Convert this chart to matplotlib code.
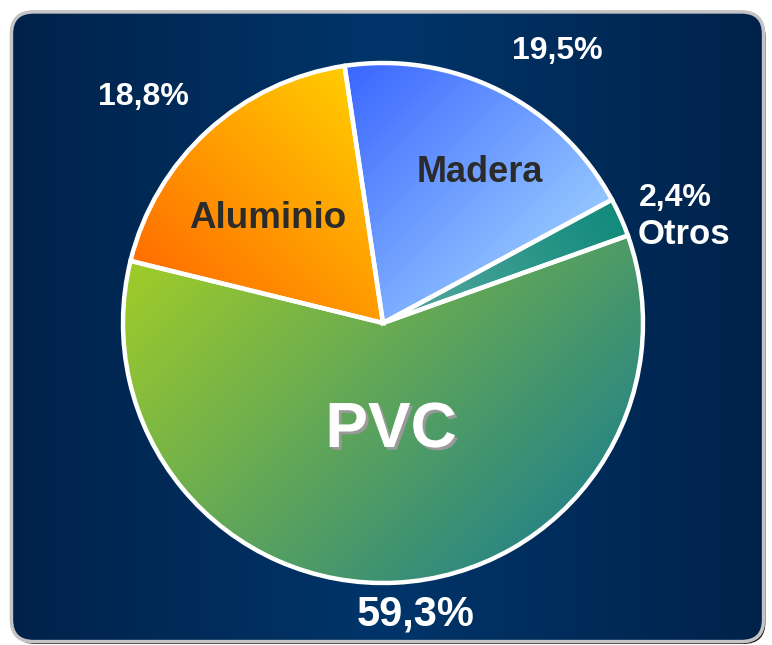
import numpy as np
import matplotlib
matplotlib.use('Agg')
import matplotlib.pyplot as plt
from matplotlib.patches import FancyBboxPatch
from matplotlib.colors import LinearSegmentedColormap, to_rgb
import matplotlib.patheffects as pe

plt.rcParams['font.family'] = ['Liberation Sans', 'DejaVu Sans']

# ---- data ----
categories = ['Madera', 'Otros', 'PVC', 'Aluminio']
values = [19.5, 2.4, 59.3, 18.8]
pct_labels = ['19,5%', '2,4%', '59,3%', '18,8%']

# ---- style / layout ----
W, H = 772, 645
cx, cy, R = 383, H - 323, 260
start_angle = 98.5
grad = {  # (start colour, end colour, direction in data coords)
    'Madera':   ('#3a66ff', '#94c6ff', (1, -1)),
    'Otros':    ('#118a7c', '#5aaaa2', (-1, -0.6)),
    'PVC':      ('#a0cc28', '#2a8682', (1, -1)),
    'Aluminio': ('#ff6e00', '#ffcc00', (1, 1)),
}
# label positions in pixel coords (x, y from top)
cat_pos = {'Madera': (480, 173, '#2b2b2b', 26),
           'Aluminio': (268, 218, '#2b2b2b', 26.5),
           'PVC': (391, 430, 'white', 46),
           'Otros': (684, 234, 'white', 25)}
pct_pos = {'19,5%': (557, 51, 23), '2,4%': (675, 198, 23),
           '59,3%': (416, 614, 30), '18,8%': (143, 97, 23)}

fig = plt.figure(figsize=(W / 100, H / 100), dpi=100)
fig.patch.set_facecolor('white')
ax = fig.add_axes([0, 0, 1, 1])

# background panel
x0, y0, bw, bh = 11.5, 3.5, 752, 629.5
shadow = FancyBboxPatch((x0 + 2, y0 - 2.5), bw, bh,
                        boxstyle='round,pad=0,rounding_size=22',
                        facecolor='#222222', edgecolor='none', zorder=0)
ax.add_patch(shadow)
panel = FancyBboxPatch((x0, y0), bw, bh, boxstyle='round,pad=0,rounding_size=22',
                       facecolor='#002e5c', edgecolor='#c4c4c4', linewidth=2.4, zorder=1)
ax.add_patch(panel)
bg_cmap = LinearSegmentedColormap.from_list('bg', ['#00224a', '#00356a', '#00224a'])
xs = np.linspace(0, 1, 400)
bgimg = np.tile(xs, (10, 1))
im = ax.imshow(bgimg, cmap=bg_cmap, extent=[x0, x0 + bw, y0, y0 + bh],
               origin='lower', aspect='auto', zorder=1.1)
im.set_clip_path(panel)
border = FancyBboxPatch((x0, y0), bw, bh, boxstyle='round,pad=0,rounding_size=22',
                        facecolor='none', edgecolor='#c4c4c4', linewidth=2.4, zorder=1.2)
ax.add_patch(border)

# pie
wedges, _ = ax.pie(values, startangle=start_angle, counterclock=False,
                   center=(cx, cy), radius=R,
                   wedgeprops=dict(edgecolor='white', linewidth=3.2, facecolor='none'))
for w in wedges:
    w.set_zorder(3)

N = 520
gx = np.linspace(cx - R, cx + R, N)
gy = np.linspace(cy - R, cy + R, N)
GX, GY = np.meshgrid(gx, gy)
for w, cat in zip(wedges, categories):
    c1, c2, d = grad[cat]
    d = np.array(d, float)
    d /= np.linalg.norm(d)
    verts = w.get_path().vertices
    proj = verts @ d
    pmin, pmax = proj.min(), proj.max()
    t = ((GX * d[0] + GY * d[1]) - pmin) / (pmax - pmin)
    t = np.clip(t, 0, 1)
    cmap = LinearSegmentedColormap.from_list(cat, [c1, c2])
    gi = ax.imshow(t, cmap=cmap, vmin=0, vmax=1, extent=[cx - R, cx + R, cy - R, cy + R],
                   origin='lower', aspect='auto', zorder=2, interpolation='bilinear')
    gi.set_clip_path(w)

# labels
for cat in categories:
    px, py, col, fs = cat_pos[cat]
    kw = {}
    if cat == 'PVC':
        kw['path_effects'] = [pe.withSimplePatchShadow(offset=(2, -2), shadow_rgbFace='#9a9a9a', alpha=1.0)]
    ax.text(px, H - py, cat, ha='center', va='center', color=col, fontsize=fs,
            fontweight='bold', zorder=5, **kw)
for lab in pct_labels:
    px, py, fs = pct_pos[lab]
    ax.text(px, H - py, lab, ha='center', va='center', color='white', fontsize=fs,
            fontweight='bold', zorder=5)

ax.set_xlim(0, W)
ax.set_ylim(0, H)
ax.set_aspect('equal')
ax.axis('off')
fig.savefig('out.png', dpi=100, facecolor='white')
